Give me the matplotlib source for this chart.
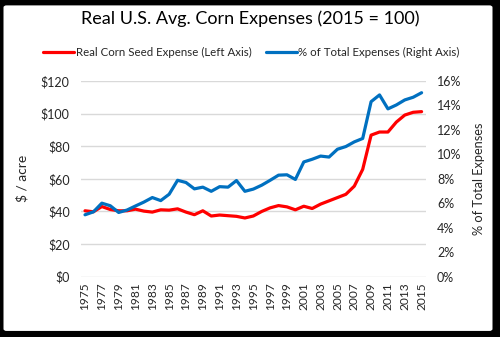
import numpy as np
import matplotlib
matplotlib.use("Agg")
import matplotlib.pyplot as plt
from matplotlib.patches import FancyBboxPatch
from matplotlib.ticker import FuncFormatter


years = list(range(1975, 2016))

# Real corn seed expense, $/acre (left axis)
seed_expense = [
    40.4, 39.8, 43.0, 41.2, 40.4, 40.4, 41.4, 40.2, 39.6, 41.0,
    40.8, 41.6, 39.6, 38.0, 40.4, 37.2, 37.8, 37.4, 37.0, 36.0,
    37.2, 40.0, 42.2, 43.6, 42.8, 41.0, 43.2, 41.8, 44.5, 46.5,
    48.5, 50.5, 55.5, 65.8, 86.8, 88.7, 88.7, 94.8, 99.1, 100.8,
    101.2,
]

# Seed as % of total expenses (right axis)
share_of_total = [
    5.06, 5.3, 6.01, 5.8, 5.25, 5.45, 5.78, 6.1, 6.47, 6.22,
    6.74, 7.88, 7.7, 7.18, 7.32, 6.98, 7.36, 7.32, 7.86, 6.98,
    7.16, 7.48, 7.88, 8.3, 8.33, 7.95, 9.38, 9.6, 9.86, 9.78,
    10.42, 10.64, 11.02, 11.3, 14.31, 14.86, 13.72, 14.04, 14.45, 14.67,
    15.04,
]

left_ticks = [0, 20, 40, 60, 80, 100, 120]
right_ticks = [0, 2, 4, 6, 8, 10, 12, 14, 16]

FONT = "Lato"
RED = "#ff0000"
BLUE = "#0070c0"
GRID = "#d9d9d9"
TEXT = "#262626"

plt.rcParams["font.family"] = [FONT, "DejaVu Sans"]

fig = plt.figure(figsize=(5.0, 3.37), dpi=100)
fig.patch.set_facecolor("black")

# white card inside the black frame
card = FancyBboxPatch(
    (0.007, 0.018), 0.978, 0.966,
    boxstyle="round,pad=0,rounding_size=0.006",
    transform=fig.transFigure, facecolor="white", edgecolor="none",
    zorder=-10,
)
fig.patches.append(card)

ax = fig.add_axes([0.1616, 0.179, 0.69, 0.5807])
ax.set_facecolor("none")
ax2 = ax.twinx()

x = np.arange(len(years))

ax.plot(x, seed_expense, color=RED, lw=2.3, solid_capstyle="round",
        label="Real Corn Seed Expense (Left Axis)", zorder=3)
ax2.plot(x, share_of_total, color=BLUE, lw=2.3, solid_capstyle="round",
         label="% of Total Expenses (Right Axis)", zorder=3)

ax.set_xlim(-0.5, len(years) - 0.5)
ax.set_ylim(0, 120)
ax2.set_ylim(0, 16)

ax.set_yticks(left_ticks)
ax2.set_yticks(right_ticks)
ax.yaxis.set_major_formatter(FuncFormatter(lambda v, p: f"${v:.0f}"))
ax2.yaxis.set_major_formatter(FuncFormatter(lambda v, p: f"{v:.0f}%"))

ax.set_xticks(x[::2])
ax.set_xticklabels([str(y) for y in years[::2]], rotation=90)

ax.grid(axis="y", color=GRID, lw=1.0)
ax.set_axisbelow(True)

for a in (ax, ax2):
    for s in a.spines.values():
        s.set_visible(False)
    a.tick_params(length=0, colors=TEXT, labelsize=9)

ax.tick_params(axis="x", pad=4, labelsize=8.6)
ax.tick_params(axis="y", pad=8)
ax2.tick_params(axis="y", pad=8)

ax.set_ylabel("$ / acre", fontsize=10, color=TEXT)
ax.yaxis.set_label_coords(-0.153, 0.5)
ax2.set_ylabel("% of Total Expenses", fontsize=9.2, color=TEXT)
ax2.yaxis.set_label_coords(1.137, 0.5)

fig.text(0.5, 0.945, "Real U.S. Avg. Corn Expenses (2015 = 100)",
         ha="center", va="center", fontsize=13, color="black")

h1, l1 = ax.get_legend_handles_labels()
h2, l2 = ax2.get_legend_handles_labels()
fig.legend(h1 + h2, l1 + l2, loc="center", bbox_to_anchor=(0.503, 0.843),
           ncol=2, frameon=False, fontsize=8.3, handlelength=2.7,
           handletextpad=0.15, columnspacing=1.2, labelcolor=TEXT)

fig.savefig("out.png", dpi=100, facecolor=fig.get_facecolor())
